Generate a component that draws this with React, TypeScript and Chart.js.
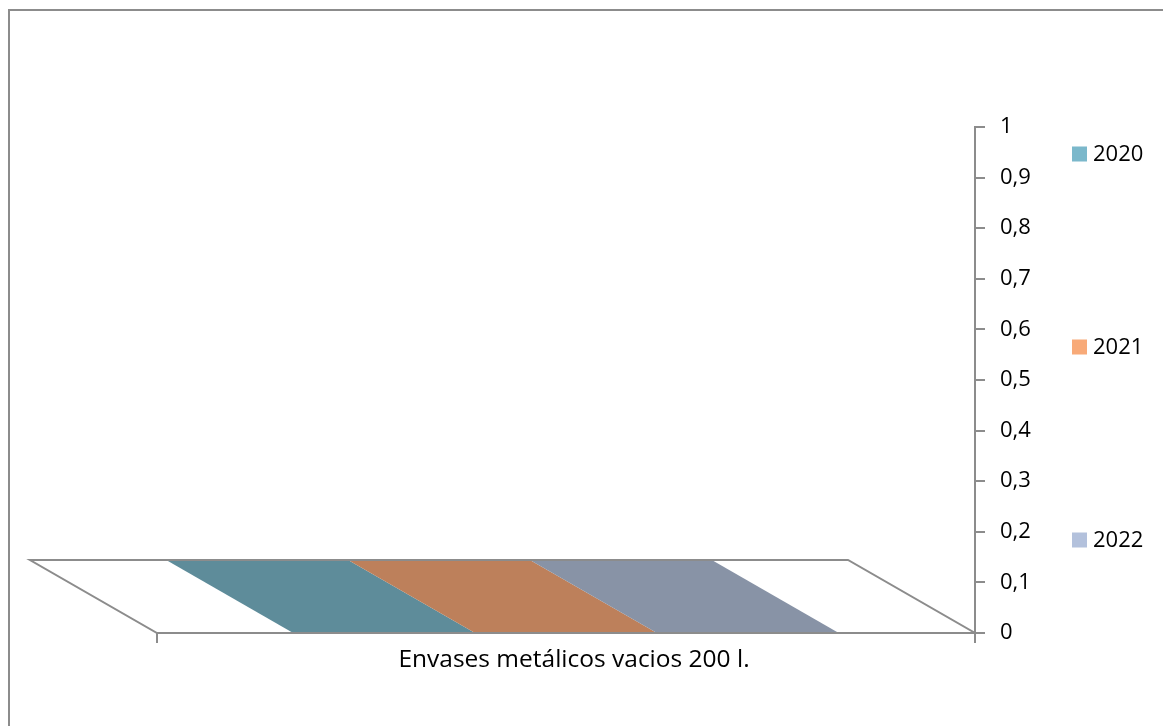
import React, { useEffect, useRef } from "react";
import { Chart, registerables } from "chart.js";

Chart.register(...registerables);

// ---- data ----
const categories = ["Envases metálicos vacios 200 l."];
const seriesLabels = ["2020", "2021", "2022"];
const values2020 = [0];
const values2021 = [0];
const values2022 = [0];
const yMin = 0;
const yMax = 1;
const yStep = 0.1;

// ---- styles ----
const legendColors = ["#7BB8CB", "#F8AA78", "#B3C1DC"];
const faceColors = ["#5E8C9A", "#BD805B", "#8893A6"];
const GRAY = "#8C8C8C";
const FONT = "'Open Sans'";
const FONT_SIZE = 22;
const XLABEL_SIZE = 24.5;
const DEPTH_DX = -127;
const DEPTH_DY = -73;
const LEGEND_X = 1062;
const LEGEND_Y = [143, 336, 529];
const LEGEND_BOX = 15;

const fmt = (v: number) => {
  const r = Math.round(v * 10) / 10;
  return String(r).replace(".", ",");
};

const floorPlugin = {
  id: "floor3d",
  beforeDatasetsDraw(chart: any) {
    const { ctx, scales } = chart;
    const xs = scales.x;
    const ys = scales.y;
    const base = ys.getPixelForValue(0);
    const quad = (l: number, r: number, yb: number) => {
      ctx.beginPath();
      ctx.moveTo(l, yb);
      ctx.lineTo(r, yb);
      ctx.lineTo(r + DEPTH_DX, yb + DEPTH_DY);
      ctx.lineTo(l + DEPTH_DX, yb + DEPTH_DY);
      ctx.closePath();
    };
    ctx.save();
    quad(xs.left, xs.right, base);
    ctx.fillStyle = "#FFFFFF";
    ctx.fill();
    chart.data.datasets.forEach((ds: any, i: number) => {
      const meta = chart.getDatasetMeta(i);
      meta.data.forEach((bar: any) => {
        const p = bar.getProps(["x", "y", "width"], true);
        quad(p.x - p.width / 2, p.x + p.width / 2, p.y);
        ctx.fillStyle = faceColors[i];
        ctx.fill();
      });
    });
    quad(xs.left, xs.right, base);
    ctx.strokeStyle = GRAY;
    ctx.lineWidth = 2;
    ctx.lineJoin = "miter";
    ctx.stroke();
    ctx.restore();
  },
};

const legendPlugin = {
  id: "sideLegend",
  afterDraw(chart: any) {
    const { ctx } = chart;
    ctx.save();
    ctx.font = `${FONT_SIZE}px ${FONT}`;
    ctx.textBaseline = "middle";
    ctx.textAlign = "left";
    chart.data.datasets.forEach((ds: any, i: number) => {
      const cy = LEGEND_Y[i];
      ctx.fillStyle = ds.backgroundColor;
      ctx.fillRect(LEGEND_X, cy - LEGEND_BOX / 2, LEGEND_BOX, LEGEND_BOX);
      ctx.fillStyle = "#000000";
      ctx.fillText(ds.label, LEGEND_X + LEGEND_BOX + 6, cy + 1);
    });
    ctx.restore();
  },
};

export default function App() {
  const ref = useRef<HTMLCanvasElement | null>(null);
  useEffect(() => {
    if (!ref.current) return;
    const seriesValues = [values2020, values2021, values2022];
    const chart = new Chart(ref.current, {
      type: "bar",
      data: {
        labels: categories,
        datasets: seriesLabels.map((lab, i) => ({
          label: lab,
          data: seriesValues[i],
          backgroundColor: legendColors[i],
          borderWidth: 0,
          categoryPercentage: 0.667,
          barPercentage: 1,
        })),
      },
      options: {
        animation: false,
        responsive: true,
        maintainAspectRatio: false,
        layout: { padding: { left: 147, top: 116, right: 113, bottom: 46 } },
        plugins: { legend: { display: false }, tooltip: { enabled: false } },
        scales: {
          x: {
            type: "category",
            offset: true,
            grid: {
              offset: true,
              drawOnChartArea: false,
              drawTicks: true,
              tickLength: 10,
              color: GRAY,
              lineWidth: 2,
            },
            border: { display: true, color: GRAY, width: 2 },
            ticks: {
              color: "#000000",
              font: { family: FONT, size: XLABEL_SIZE },
              padding: 2,
              labelOffset: 8,
              maxRotation: 0,
            },
            afterFit: (s: any) => {
              s.height = 60;
            },
          },
          y: {
            position: "right",
            min: yMin,
            max: yMax,
            grid: {
              drawOnChartArea: false,
              drawTicks: true,
              tickLength: 10,
              color: GRAY,
              lineWidth: 2,
            },
            border: { display: true, color: GRAY, width: 2 },
            ticks: {
              stepSize: yStep,
              color: "#000000",
              font: { family: FONT, size: FONT_SIZE },
              padding: 15,
              callback: (v: any) => fmt(Number(v)),
            },
            afterFit: (s: any) => {
              s.width = 90;
            },
          },
        },
      },
      plugins: [floorPlugin, legendPlugin],
    });
    return () => chart.destroy();
  }, []);

  return (
    <div
      style={{
        position: "fixed",
        left: 8,
        top: 8,
        width: 1155,
        height: 718,
        overflow: "hidden",
        background: "#FFFFFF",
      }}
    >
      <div
        style={{
          marginTop: 1,
          width: 1172,
          height: 732,
          boxSizing: "border-box",
          border: `2px solid ${GRAY}`,
        }}
      >
        <div style={{ position: "relative", width: 1168, height: 728 }}>
          <canvas ref={ref} />
        </div>
      </div>
    </div>
  );
}
